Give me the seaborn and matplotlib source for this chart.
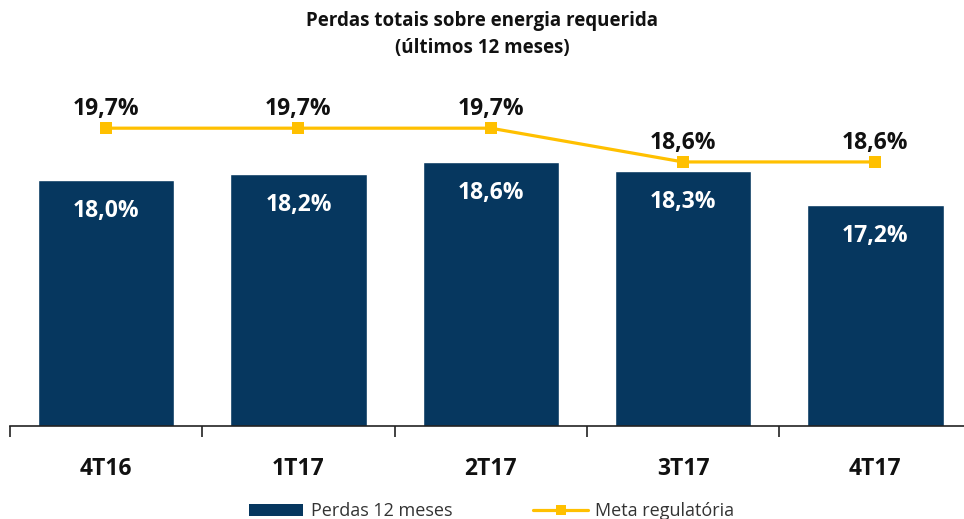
import numpy as np
import pandas as pd
import matplotlib
matplotlib.use("Agg")
import matplotlib.pyplot as plt
import seaborn as sns
from matplotlib.patches import Patch
from matplotlib.lines import Line2D

periodos = ["4T16", "1T17", "2T17", "3T17", "4T17"]
perdas = [18.0, 18.2, 18.6, 18.3, 17.2]
meta = [19.7, 19.7, 19.7, 18.6, 18.6]

navy = "#06375F"
yellow = "#FFC000"

sns.set_theme(style="white")
plt.rcParams["font.family"] = ["Open Sans", "DejaVu Sans"]

df = pd.DataFrame({"periodo": periodos, "perdas": perdas, "meta": meta})

fig = plt.figure(figsize=(9.64, 5.19), dpi=100)
ax = fig.add_axes([0.0104, 0.1792, 0.9974, 0.6667])

sns.barplot(data=df, x="periodo", y="perdas", color=navy, width=0.71,
            saturation=1, ax=ax)
sns.lineplot(data=df, x="periodo", y="meta", color=yellow, linewidth=2.3,
             marker="s", markersize=8, markeredgewidth=0, ax=ax)

ax.set_ylim(10, 21.27)
ax.set_xlim(-0.5, 4.5)
ax.set_xlabel("")
ax.set_ylabel("")
ax.set_yticks([])

# rótulos
for i, v in enumerate(perdas):
    ax.annotate(f"{v:.1f}%".replace(".", ","), (i, v), xytext=(0, -31),
                textcoords="offset pixels", ha="center", va="center",
                color="white", fontsize=16.5, fontweight="bold")
for i, v in enumerate(meta):
    ax.annotate(f"{v:.1f}%".replace(".", ","), (i, v), xytext=(0, 19),
                textcoords="offset pixels", ha="center", va="center",
                color="#111111", fontsize=16.5, fontweight="bold")

for s in ["top", "right", "left"]:
    ax.spines[s].set_visible(False)
ax.spines["bottom"].set_color("#222222")
ax.spines["bottom"].set_linewidth(1.2)

ax.set_xticks(range(len(periodos)))
ax.set_xticklabels(periodos, fontsize=16.5, fontweight="bold", color="#111111")
ax.set_xticks(np.arange(-0.5, 5.0, 1.0), minor=True)
ax.tick_params(axis="x", which="major", length=0, pad=22)
ax.tick_params(axis="x", which="minor", length=8, width=1.2, color="#222222",
               direction="out", bottom=True)

fig.suptitle("Perdas totais sobre energia requerida\n(últimos 12 meses)",
             x=0.5, y=0.978, fontsize=13.5, fontweight="bold", color="#111111",
             linespacing=1.45)

handles = [Patch(facecolor=navy, edgecolor="none", label="Perdas 12 meses"),
           Line2D([0], [0], color=yellow, linewidth=2.3, marker="s",
                  markersize=7, markeredgewidth=0, label="Meta regulatória")]
fig.legend(handles=handles, loc="lower center", bbox_to_anchor=(0.51, -0.034),
           ncol=2, frameon=False, fontsize=13, handlelength=3.0,
           columnspacing=4.5, handletextpad=0.4, labelcolor="#333333")

fig.savefig("out.png", dpi=100)
